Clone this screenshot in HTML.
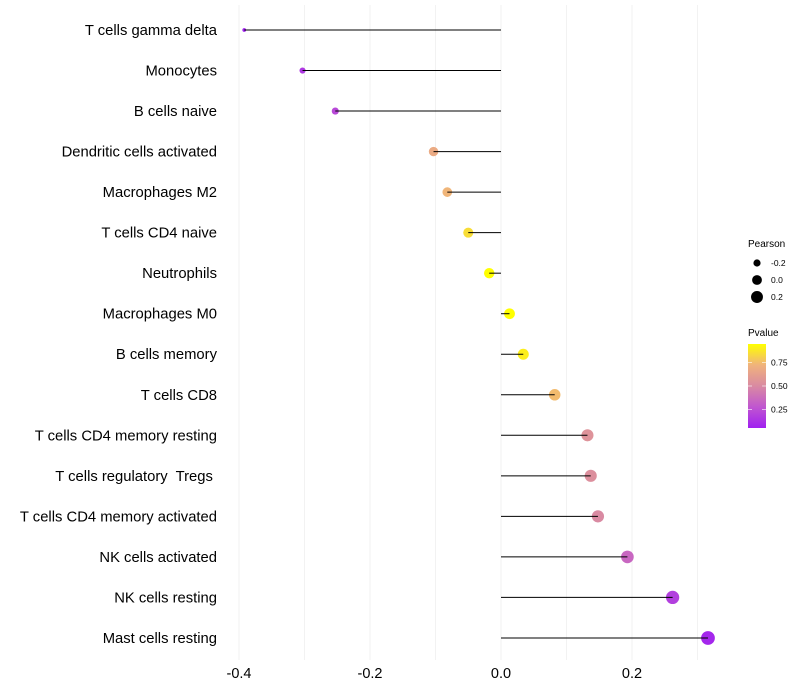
<!DOCTYPE html>
<html><head><meta charset="utf-8"><style>
body{margin:0;background:#fff;}
svg{display:block;font-family:"Liberation Sans",sans-serif;}
text{white-space:pre;}
</style></head><body>
<svg id="chart" width="800" height="700" xmlns="http://www.w3.org/2000/svg" xml:space="preserve">
<defs><linearGradient id="pg" x1="0" y1="1" x2="0" y2="0">
<stop offset="0" stop-color="#a020f0"/><stop offset="0.25" stop-color="#c056d0"/><stop offset="0.5" stop-color="#d98aa2"/><stop offset="0.75" stop-color="#f0b37c"/><stop offset="1" stop-color="#ffff00"/></linearGradient></defs>
<g id="grid"></g><g id="marks"></g><g id="labels"></g>
<g>
<text x="748" y="247" font-size="10">Pearson</text>
<g id="sizeLegend"></g>
<text x="748" y="336" font-size="10">Pvalue</text>
<rect x="748" y="344" width="18" height="84" fill="url(#pg)"/>
<g id="colorTicks"></g>
</g>
</svg>
<script>
const categories=["T cells gamma delta","Monocytes","B cells naive","Dendritic cells activated","Macrophages M2","T cells CD4 naive","Neutrophils","Macrophages M0","B cells memory","T cells CD8","T cells CD4 memory resting","T cells regulatory  Tregs ","T cells CD4 memory activated","NK cells activated","NK cells resting","Mast cells resting"];
const pearson=[-0.392,-0.303,-0.253,-0.103,-0.082,-0.050,-0.018,0.013,0.034,0.082,0.132,0.137,0.148,0.193,0.262,0.316];
const pvalue=[0.05,0.15,0.22,0.68,0.73,0.85,0.95,0.95,0.90,0.75,0.55,0.53,0.50,0.35,0.18,0.08];
const xTicks=[-0.4,-0.2,0.0,0.2];
const xTickLabels=["-0.4","-0.2","0.0","0.2"];
const sizeLegendVals=[-0.2,0.0,0.2];
const colorLegendVals=[0.25,0.5,0.75];

const NS="http://www.w3.org/2000/svg";
const X=v=>501+v*655;
const Y=i=>30+i*40.53;
const R=v=>Math.sqrt(Math.max(1,24.2+56.3*v));
const stops=[[0,[160,32,240]],[0.25,[192,86,208]],[0.5,[217,138,162]],[0.75,[240,179,124]],[1,[255,255,0]]];
function col(p){const t=(p-0.05)/0.9;
 for(let k=0;k<stops.length-1;k++){const [a,ca]=stops[k],[b,cb]=stops[k+1];
  if(t<=b||k==stops.length-2){const f=Math.max(0,Math.min(1,(t-a)/(b-a)));return `rgb(${ca.map((c,i)=>Math.round(c+(cb[i]-c)*f))})`;}}}
const CY=p=>428-(p-0.05)/0.9*84;
function el(tag,attrs,parent,txt){const e=document.createElementNS(NS,tag);for(const k in attrs)e.setAttribute(k,attrs[k]);if(txt!==undefined)e.textContent=txt;parent.appendChild(e);return e;}
const grid=document.getElementById('grid'),marks=document.getElementById('marks'),labels=document.getElementById('labels');
for(let v=-0.4;v<=0.31;v+=0.1){const g=el('line',{x1:X(v),x2:X(v),y1:5,y2:660,stroke:'#f2f2f2','stroke-width':1},grid);

}
xTicks.forEach((t,i)=>{const e=el('text',{x:X(t),y:678,'font-size':14.5,'text-anchor':'middle',fill:'#000'},labels,xTickLabels[i]);

});
categories.forEach((c,i)=>{
 const t=el('text',{x:217,y:Y(i)+5,'font-size':14.8,'text-anchor':'end',fill:'#000'},labels,c);
 
 
 const p=el('circle',{cx:X(pearson[i]),cy:Y(i),r:R(pearson[i])+0.4,fill:col(pvalue[i])},marks);
 
 
 const l=el('line',{x1:X(0),x2:X(pearson[i]),y1:Y(i),y2:Y(i),stroke:'#000','stroke-width':1},marks);
 
 
});
const sl=document.getElementById('sizeLegend');
sizeLegendVals.forEach((v,i)=>{const y=263+i*17;
 const c=el('circle',{cx:757,cy:y,r:R(v),fill:'#000'},sl);
 
 
 el('text',{x:771,y:y+3,'font-size':8.5},sl,v.toFixed(1));});
const ct=document.getElementById('colorTicks');
colorLegendVals.forEach(v=>{const y=CY(v);
 el('line',{x1:748,x2:752,y1:y,y2:y,stroke:'#fff','stroke-width':0.6},ct);
 el('line',{x1:762,x2:766,y1:y,y2:y,stroke:'#fff','stroke-width':0.6},ct);
 el('text',{x:771,y:y+3,'font-size':8.5},ct,v.toFixed(2));});
</script>
</body></html>
